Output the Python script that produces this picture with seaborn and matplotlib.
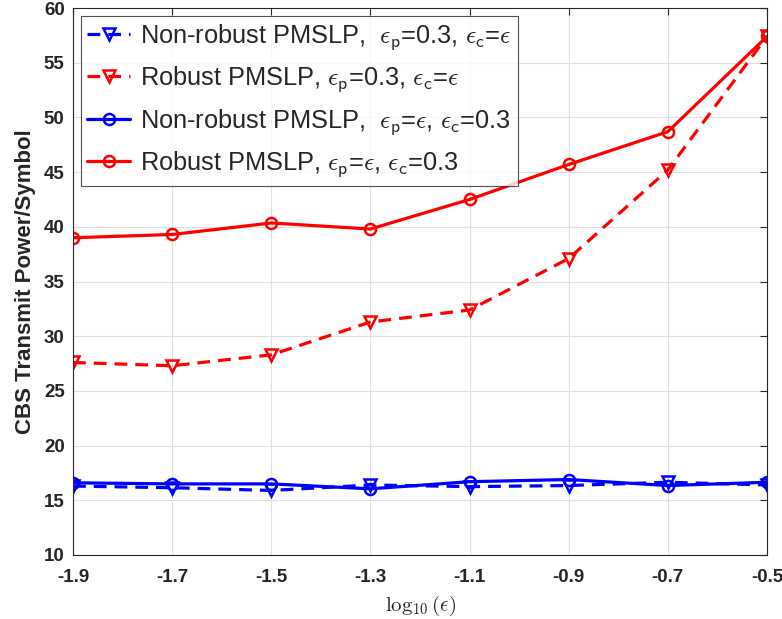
import matplotlib
matplotlib.use("Agg")
import matplotlib.pyplot as plt
import seaborn as sns
import pandas as pd
import numpy as np

x_vals = [-1.9, -1.7, -1.5, -1.3, -1.1, -0.9, -0.7, -0.5]
nonrobust_p03 = [16.3, 16.15, 15.9, 16.4, 16.25, 16.35, 16.65, 16.4]
robust_p03 = [27.6, 27.3, 28.3, 31.3, 32.4, 37.1, 45.2, 57.4]
nonrobust_c03 = [16.6, 16.5, 16.5, 16.05, 16.7, 16.9, 16.35, 16.65]
robust_c03 = [39.0, 39.3, 40.35, 39.8, 42.5, 45.7, 48.7, 57.4]

labels = [
    r"Non-robust PMSLP,  $\epsilon_{\mathsf{p}}$=0.3, $\epsilon_{\mathsf{c}}$=$\epsilon$",
    r"Robust PMSLP, $\epsilon_{\mathsf{p}}$=0.3, $\epsilon_{\mathsf{c}}$=$\epsilon$",
    r"Non-robust PMSLP,  $\epsilon_{\mathsf{p}}$=$\epsilon$, $\epsilon_{\mathsf{c}}$=0.3",
    r"Robust PMSLP, $\epsilon_{\mathsf{p}}$=$\epsilon$, $\epsilon_{\mathsf{c}}$=0.3",
]
series = [nonrobust_p03, robust_p03, nonrobust_c03, robust_c03]
colors = ["#0000ff", "#ff0000", "#0000ff", "#ff0000"]
markers = ["v", "v", "o", "o"]
styles = [(0, (4, 2.5)), (0, (4, 2.5)), "-", "-"]

sns.set_style("white")
plt.rcParams["font.family"] = ["Liberation Sans", "DejaVu Sans"]
plt.rcParams["mathtext.fontset"] = "cm"

fig = plt.figure(figsize=(7.82, 6.19), dpi=100)
ax = fig.add_axes([0.0934, 0.1034, 0.8874, 0.8836])

for vals, lab, c, m, ls in zip(series, labels, colors, markers, styles):
    df = pd.DataFrame({"x": x_vals, "y": vals})
    sns.lineplot(data=df, x="x", y="y", ax=ax, color=c, marker=m, linestyle=ls,
                 linewidth=2.3, markersize=8, markerfacecolor="none",
                 markeredgecolor=c, markeredgewidth=1.8, label=lab)

ax.set_xlim(-1.9, -0.5)
ax.set_ylim(10, 60)
ax.set_xticks(x_vals)
ax.set_xticklabels(["-1.9", "-1.7", "-1.5", "-1.3", "-1.1", "-0.9", "-0.7", "-0.5"])
ax.set_yticks(np.arange(10, 61, 5))
for t in ax.get_xticklabels() + ax.get_yticklabels():
    t.set_fontweight("bold")
    t.set_fontsize(13.5)
ax.grid(True, color="#e0e0e0", linewidth=0.8)
ax.tick_params(direction="in", top=True, right=True, length=5, width=0.8, colors="#262626")
ax.tick_params(axis="x", pad=10)
ax.tick_params(axis="y", pad=6)
for s in ax.spines.values():
    s.set_color("#262626")
    s.set_linewidth(0.8)
ax.set_xlabel(r"$\log_{10}(\epsilon)$", fontsize=15, labelpad=6)
ax.set_ylabel("CBS Transmit Power/Symbol", fontsize=16, fontweight="bold", labelpad=6)

leg = ax.legend(loc="upper left", fontsize=18.3, frameon=True, fancybox=False,
                edgecolor="#262626", handlelength=1.7, handletextpad=0.4,
                borderaxespad=0.3, labelspacing=0.5, borderpad=0.25)
leg.get_frame().set_linewidth(0.8)

fig.savefig("out.png", dpi=100)
